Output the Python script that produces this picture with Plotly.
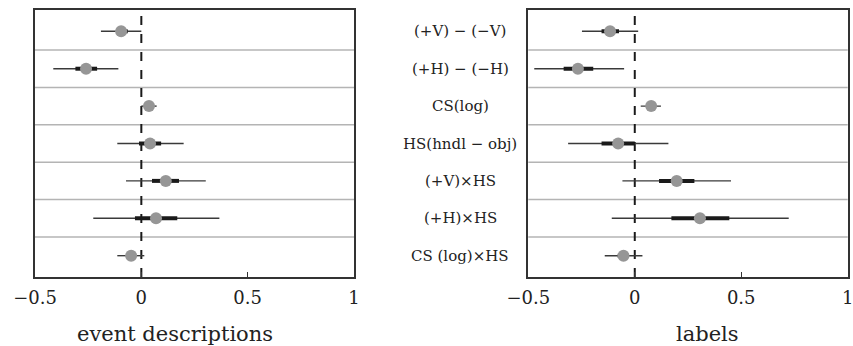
import plotly.graph_objects as go

terms = ["(+V) − (−V)", "(+H) − (−H)", "CS(log)", "HS(hndl − obj)",
         "(+V)×HS", "(+H)×HS", "CS (log)×HS"]

# event descriptions
ev_est = [-0.095, -0.26, 0.036, 0.041, 0.115, 0.069, -0.048]
ev_lo_outer = [-0.19, -0.414, 0.0, -0.113, -0.072, -0.226, -0.113]
ev_hi_outer = [0.0, -0.108, 0.072, 0.199, 0.303, 0.367, 0.014]
ev_lo_inner = [-0.116, -0.31, 0.02, -0.011, 0.05, -0.03, -0.07]
ev_hi_inner = [-0.064, -0.208, 0.052, 0.093, 0.177, 0.169, -0.025]

# labels
lb_est = [-0.116, -0.267, 0.077, -0.078, 0.197, 0.306, -0.053]
lb_lo_outer = [-0.248, -0.472, 0.028, -0.313, -0.058, -0.108, -0.141]
lb_hi_outer = [0.016, -0.05, 0.123, 0.158, 0.452, 0.723, 0.036]
lb_lo_inner = [-0.156, -0.334, 0.06, -0.156, 0.114, 0.172, -0.08]
lb_hi_inner = [-0.074, -0.195, 0.095, 0.0, 0.28, 0.444, -0.03]

tick_vals = [-0.5, 0, 0.5, 1]
tick_text = ["−0.5", "0", "0.5", "1"]

FONT = "DejaVu Serif"
W, H = 853, 346

fig = go.Figure()


def add_panel(est, lo_o, hi_o, lo_i, hi_i, xa, ya):
    for i in range(len(est)):
        fig.add_trace(go.Scatter(x=[lo_o[i], hi_o[i]], y=[i, i], mode="lines",
                                 line=dict(color="#3a3a3a", width=1.4),
                                 xaxis=xa, yaxis=ya, hoverinfo="skip"))
        fig.add_trace(go.Scatter(x=[lo_i[i], hi_i[i]], y=[i, i], mode="lines",
                                 line=dict(color="#1a1a1a", width=4),
                                 xaxis=xa, yaxis=ya, hoverinfo="skip"))
    fig.add_trace(go.Scatter(x=est, y=list(range(len(est))), mode="markers",
                             marker=dict(color="#969696", size=12),
                             xaxis=xa, yaxis=ya))


add_panel(ev_est, ev_lo_outer, ev_hi_outer, ev_lo_inner, ev_hi_inner, "x", "y")
add_panel(lb_est, lb_lo_outer, lb_hi_outer, lb_lo_inner, lb_hi_inner, "x2", "y2")

y_top = 1 - 10 / H
y_bot = 1 - 277 / H

xcommon = dict(range=[-0.5, 1], tickvals=tick_vals, ticktext=tick_text,
               ticks="inside", ticklen=5, tickcolor="#333", automargin=False,
               ticklabeloverflow="allow", ticklabelstandoff=4,
               showline=True, mirror=True, linecolor="#333", linewidth=1.5,
               showgrid=False, zeroline=False,
               tickfont=dict(family=FONT, size=18, color="#222"))
ycommon = dict(range=[6.57, -0.57], showticklabels=False, ticks="", automargin=False,
               showline=True, mirror=True, linecolor="#333", linewidth=1.5,
               showgrid=False, zeroline=False)

fig.update_layout(
    width=W, height=H,
    margin=dict(l=0, r=0, t=0, b=0, autoexpand=False),
    paper_bgcolor="white", plot_bgcolor="white",
    showlegend=False,
    xaxis=dict(domain=[35 / W, 354 / W], anchor="y", **xcommon),
    yaxis=dict(domain=[y_bot, y_top], anchor="x", **ycommon),
    xaxis2=dict(domain=[528.3 / W, 847.7 / W], anchor="y2", **xcommon),
    yaxis2=dict(domain=[y_bot, y_top], anchor="x2", **ycommon),
)

shapes = []
for xr, yr in [("x", "y"), ("x2", "y2")]:
    for k in range(len(terms) - 1):
        shapes.append(dict(type="line", xref=xr + " domain", yref=yr,
                           x0=0, x1=1, y0=k + 0.5, y1=k + 0.5,
                           line=dict(color="#b4b4b4", width=1.5), layer="below"))
    shapes.append(dict(type="line", xref=xr, yref=yr + " domain",
                       x0=0, x1=0, y0=0, y1=1,
                       line=dict(color="#1a1a1a", width=2, dash="dash"), layer="below"))
fig.update_layout(shapes=shapes)

for k, t in enumerate(terms):
    fig.add_annotation(x=460 / W, xref="paper", y=k, yref="y", text=t,
                       showarrow=False, xanchor="center", yanchor="middle",
                       font=dict(family=FONT, size=15, color="#222"))

fig.add_annotation(x=175 / W, y=1 - 334 / H, xref="paper", yref="paper",
                   text="event descriptions", showarrow=False,
                   xanchor="center", yanchor="middle",
                   font=dict(family=FONT, size=21, color="#222"))
fig.add_annotation(x=707 / W, y=1 - 334 / H, xref="paper", yref="paper",
                   text="labels", showarrow=False,
                   xanchor="center", yanchor="middle",
                   font=dict(family=FONT, size=21, color="#222"))

fig.write_html("out.html", config={"displayModeBar": False},
               post_script="document.body.style.margin='0';")
